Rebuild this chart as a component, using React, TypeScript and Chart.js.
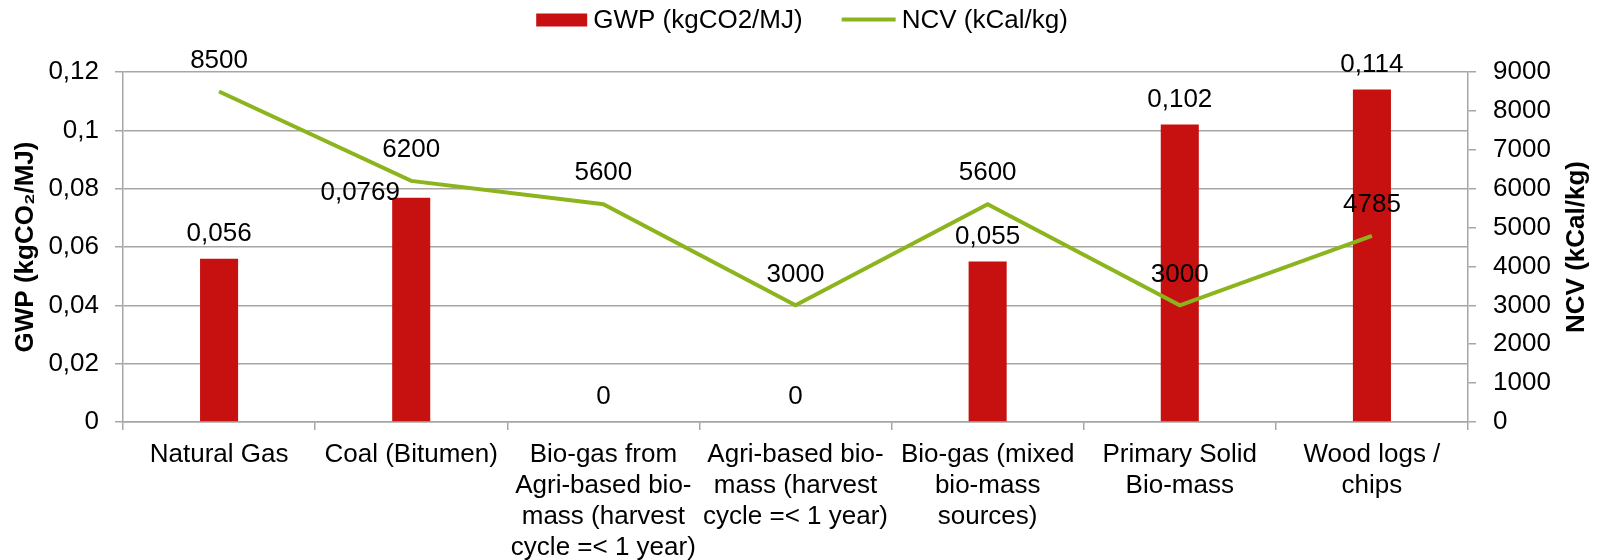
import React, { useEffect, useRef } from 'react';
import { Chart, registerables } from 'chart.js';

Chart.register(...registerables);

// ---- data ----
const categories: (string | string[])[] = [
  'Natural Gas',
  'Coal (Bitumen)',
  ['Bio-gas from', 'Agri-based bio-', 'mass (harvest', 'cycle =< 1 year)'],
  ['Agri-based bio-', 'mass (harvest', 'cycle =< 1 year)'],
  ['Bio-gas (mixed', 'bio-mass', 'sources)'],
  ['Primary Solid', 'Bio-mass'],
  ['Wood logs /', 'chips'],
];
const gwpValues = [0.056, 0.0769, 0, 0, 0.055, 0.102, 0.114];
const ncvValues = [8500, 6200, 5600, 3000, 5600, 3000, 4785];

const gwpLabel = 'GWP (kgCO2/MJ)';
const ncvLabel = 'NCV (kCal/kg)';
const leftAxisTitle = 'GWP (kgCO\u2082/MJ)';
const rightAxisTitle = 'NCV (kCal/kg)';
const leftTickMax = 0.12;
const leftTickStep = 0.02;
const rightTickMax = 9000;
const rightTickStep = 1000;

// ---- style ----
const FONT = '"Liberation Sans", Arial, Helvetica, sans-serif';
const BAR_COLOR = '#c71010';
const LINE_COLOR = '#8cb41c';
const GRID_COLOR = '#a6a6a6';
// label nudges (dx, dy) for bar value labels
const barLabelNudge: [number, number][] = [[0, 0], [-51, 20], [0, 0], [0, 0], [0, 0], [0, 0], [0, 0]];

const comma = (v: number) => String(Math.round(v * 10000) / 10000).replace('.', ',');

const customPlugin = {
  id: 'customDecor',
  afterDatasetsDraw(chart: any) {
    const ctx = chart.ctx;
    ctx.save();
    ctx.font = `26px ${FONT}`;
    ctx.fillStyle = '#000';
    ctx.textAlign = 'center';
    ctx.textBaseline = 'middle';
    chart.data.datasets.forEach((ds: any, di: number) => {
      const meta = chart.getDatasetMeta(di);
      const isBar = ds.type !== 'line';
      meta.data.forEach((el: any, i: number) => {
        const v = ds.data[i];
        const text = isBar ? comma(v) : String(v);
        const n = isBar ? barLabelNudge[i] : [0, 0];
        const off = isBar ? 25 : 31;
        ctx.fillText(text, el.x + n[0], el.y - off + n[1]);
      });
    });
    ctx.restore();
  },
  afterDraw(chart: any) {
    const ctx = chart.ctx;
    const ca = chart.chartArea;
    // right axis title (reads bottom to top)
    ctx.save();
    ctx.font = `bold 26px ${FONT}`;
    ctx.fillStyle = '#000';
    ctx.textAlign = 'center';
    ctx.textBaseline = 'middle';
    const y1 = chart.scales.y1;
    ctx.translate(y1.right - 27, (ca.top + ca.bottom) / 2);
    ctx.rotate(-Math.PI / 2);
    ctx.fillText(rightAxisTitle, 0, 0);
    ctx.restore();

    // legend
    ctx.save();
    ctx.font = `26px ${FONT}`;
    ctx.textBaseline = 'middle';
    ctx.textAlign = 'left';
    const ds = chart.data.datasets;
    const symW = [51, 54];
    const gap = 6;
    const itemGap = 39;
    const texts = ds.map((d: any) => d.label);
    const widths = texts.map((t: string) => ctx.measureText(t).width);
    const total = symW[0] + gap + widths[0] + itemGap + symW[1] + gap + widths[1];
    let x = (chart.width - total) / 2;
    const cy = 20;
    // bar item
    ctx.fillStyle = ds[0].backgroundColor;
    ctx.fillRect(x, cy - 6.5, symW[0], 13);
    x += symW[0] + gap;
    ctx.fillStyle = '#000';
    ctx.fillText(texts[0], x, cy + 1);
    x += widths[0] + itemGap;
    // line item
    ctx.strokeStyle = ds[1].borderColor;
    ctx.lineWidth = 4;
    ctx.beginPath();
    ctx.moveTo(x, cy - 0.5);
    ctx.lineTo(x + symW[1], cy - 0.5);
    ctx.stroke();
    x += symW[1] + gap;
    ctx.fillText(texts[1], x, cy + 1);
    ctx.restore();
  },
};

export default function App() {
  const ref = useRef<HTMLCanvasElement | null>(null);
  useEffect(() => {
    if (!ref.current) return;
    Chart.defaults.font.family = FONT;
    Chart.defaults.font.size = 26;
    Chart.defaults.color = '#000';
    const chart = new Chart(ref.current, {
      type: 'bar',
      data: {
        labels: categories,
        datasets: [
          {
            type: 'bar',
            label: gwpLabel,
            data: gwpValues,
            backgroundColor: BAR_COLOR,
            borderWidth: 0,
            yAxisID: 'y',
            order: 2,
            barPercentage: 0.198,
            categoryPercentage: 1,
          } as any,
          {
            type: 'line',
            label: ncvLabel,
            data: ncvValues,
            borderColor: LINE_COLOR,
            backgroundColor: LINE_COLOR,
            borderWidth: 4,
            pointRadius: 0,
            tension: 0,
            yAxisID: 'y1',
            order: 1,
          } as any,
        ],
      },
      options: {
        animation: false,
        responsive: false,
        devicePixelRatio: 1,
        layout: { padding: { top: 72, left: 0, right: 0, bottom: 0 } },
        plugins: {
          legend: { display: false },
          tooltip: { enabled: false },
        },
        scales: {
          x: {
            offset: true,
            grid: {
              offset: true,
              drawOnChartArea: false,
              tickLength: 8,
              color: GRID_COLOR,
              lineWidth: 1.5,
            },
            border: { color: GRID_COLOR, width: 1.5 },
            ticks: {
              autoSkip: false,
              maxRotation: 0,
              minRotation: 0,
              padding: 9,
              color: '#000',
              font: { size: 26, lineHeight: 1.2 },
            },
            afterFit: (s: any) => { s.height = 138; },
          },
          y: {
            position: 'left',
            min: 0,
            max: leftTickMax,
            ticks: {
              stepSize: leftTickStep,
              padding: 16,
              color: '#000',
              font: { size: 26 },
              callback: (v: any) => comma(Number(v)),
            },
            grid: { color: GRID_COLOR, tickLength: 8, lineWidth: 1.5 },
            border: { color: GRID_COLOR, width: 1.5 },
            title: {
              display: true,
              text: leftAxisTitle,
              color: '#000',
              font: { size: 26, weight: 'bold' },
              padding: { top: 10, bottom: 0 },
            },
            afterFit: (s: any) => { s.width = 123; },
          },
          y1: {
            position: 'right',
            min: 0,
            max: rightTickMax,
            ticks: {
              stepSize: rightTickStep,
              padding: 17,
              color: '#000',
              font: { size: 26 },
              callback: (v: any) => String(Math.round(Number(v))),
            },
            grid: { drawOnChartArea: false, color: GRID_COLOR, tickLength: 8, lineWidth: 1.5 },
            border: { color: GRID_COLOR, width: 1.5 },
            afterFit: (s: any) => { s.width = 136; },
          },
        },
      } as any,
      plugins: [customPlugin],
    });
    return () => chart.destroy();
  }, []);
  return (
    <div style={{ position: 'absolute', left: 0, top: 0, width: 1604, height: 560, background: '#fff' }}>
      <canvas ref={ref} width={1604} height={560} style={{ display: 'block' }} />
    </div>
  );
}
